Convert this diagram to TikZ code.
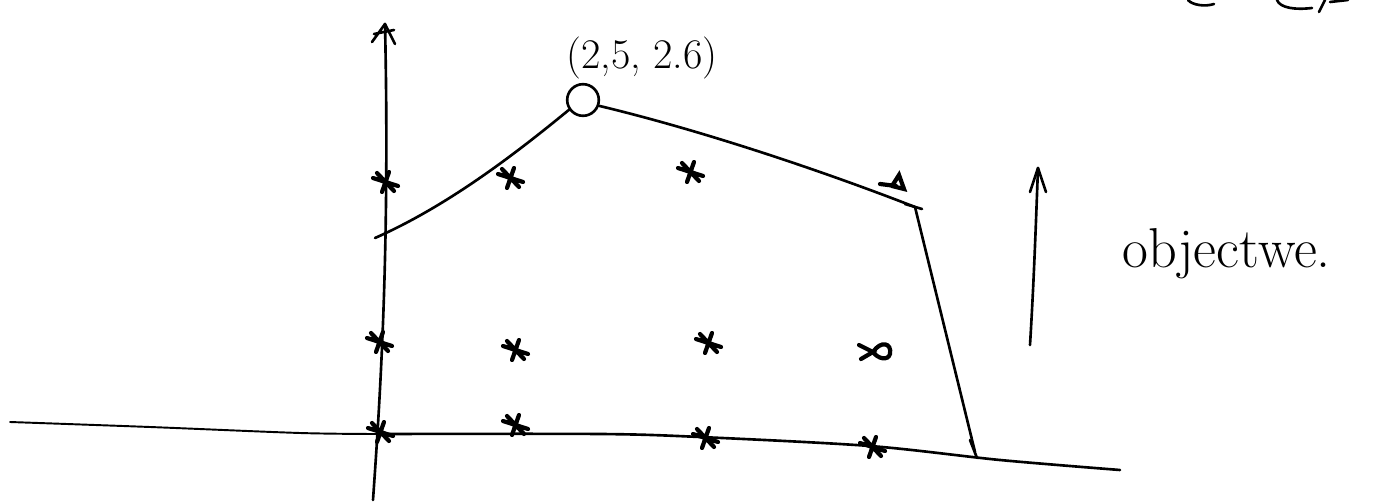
\documentclass[tikz,border=0pt]{standalone}
\usetikzlibrary{arrows.meta}
\begin{document}
\begin{tikzpicture}[x=0.02cm,y=-0.02cm,
  ink/.style={line width=1.5pt,line cap=round,line join=round,black},
  thinink/.style={line width=1.1pt,line cap=round,line join=round,black},
  markline/.style={line width=2.4pt,line cap=round,black},
  starmark/.pic={\draw[markline] (-12,-4)--(13,4) (-8,-9)--(9,9) (-3,10)--(4,-10);},
  loopmark/.pic={\draw[markline] (-14,-5)--(0,2)--(-12,9); \draw[markline] (0,2) .. controls (8,-10) and (19,-7) .. (17,4) .. controls (15,11) and (5,9) .. (0,2);},
  trimark/.pic={\draw[markline] (-12,2)--(4,4) (0,4)--(7,-7)--(12,7)--(0,4);},
  lbl/.style={inner sep=0pt,font=\fontsize{24}{28}\selectfont}
]
\useasboundingbox (0,0) rectangle (1373,503);
% axes
\coordinate (ytop) at (385,24);
\coordinate (ybot) at (373,500);
\draw[ink] (ybot) .. controls (380,400) and (390,250) .. (ytop);
\draw[ink] (372,42) -- (ytop) -- (395,44) (374,34)--(394,30);
\coordinate (xl) at (10,422);
\coordinate (xr) at (1120,470);
\draw[thinink] plot[smooth] coordinates {(xl) (150,427) (300,433) (378,434)};
\draw[ink] plot[smooth] coordinates {(378,434) (600,434) (700,437) (870,446) (1000,460) (xr)};
% polygon boundary
\node[draw,circle,line width=1.5pt,minimum size=18pt,inner sep=0pt] (opt) at (583,100) {};
\coordinate (p0) at (375,238);
\coordinate (p2) at (915,207);
\coordinate (p3) at (975,452);
\draw[ink] (p0) .. controls (450,205) and (520,150) .. (opt.215);
\draw[ink] (opt.-20) .. controls (700,130) and (820,170) .. (p2);
\draw[ink] (905,204)--(922,209);
\draw[ink] (p2) -- (p3);
\draw[ink] (970,440)--(977,458);
% label
\node[lbl] (lab) at (642,58) {(2,5, 2.6)};
% marks
\pic at (385,182) {starmark};
\pic at (510,178) {starmark};
\pic at (690,172) {starmark};
\pic at (892,182) {trimark};
\pic at (379,342) {starmark};
\pic at (515,350) {starmark};
\pic at (708,343) {starmark};
\pic at (873,350) {loopmark};
\pic at (380,432) {starmark};
\pic at (515,425) {starmark};
\pic at (705,438) {starmark};
\pic at (872,447) {starmark};
% objective arrow
\coordinate (ob) at (1030,345);
\coordinate (ot) at (1038,168);
\draw[ink] (ob) .. controls (1034,280) and (1036,220) .. (ot);
\draw[ink] (1030,192) -- (ot) -- (1046,192);
\node[anchor=base west,inner sep=0pt,font=\fontsize{32}{36}\selectfont] (obj) at (1122,268) {objectwe.};
% cut-off text at top right
\draw[ink] (1188,0) .. controls (1192,5) and (1205,7) .. (1214,4);
\draw[ink] (1277,0) .. controls (1280,8) and (1295,10) .. (1312,8);
\draw[ink] (1319,12) -- (1325,0);
\draw[ink] (1330,2) -- (1348,0);
\end{tikzpicture}
\end{document}
